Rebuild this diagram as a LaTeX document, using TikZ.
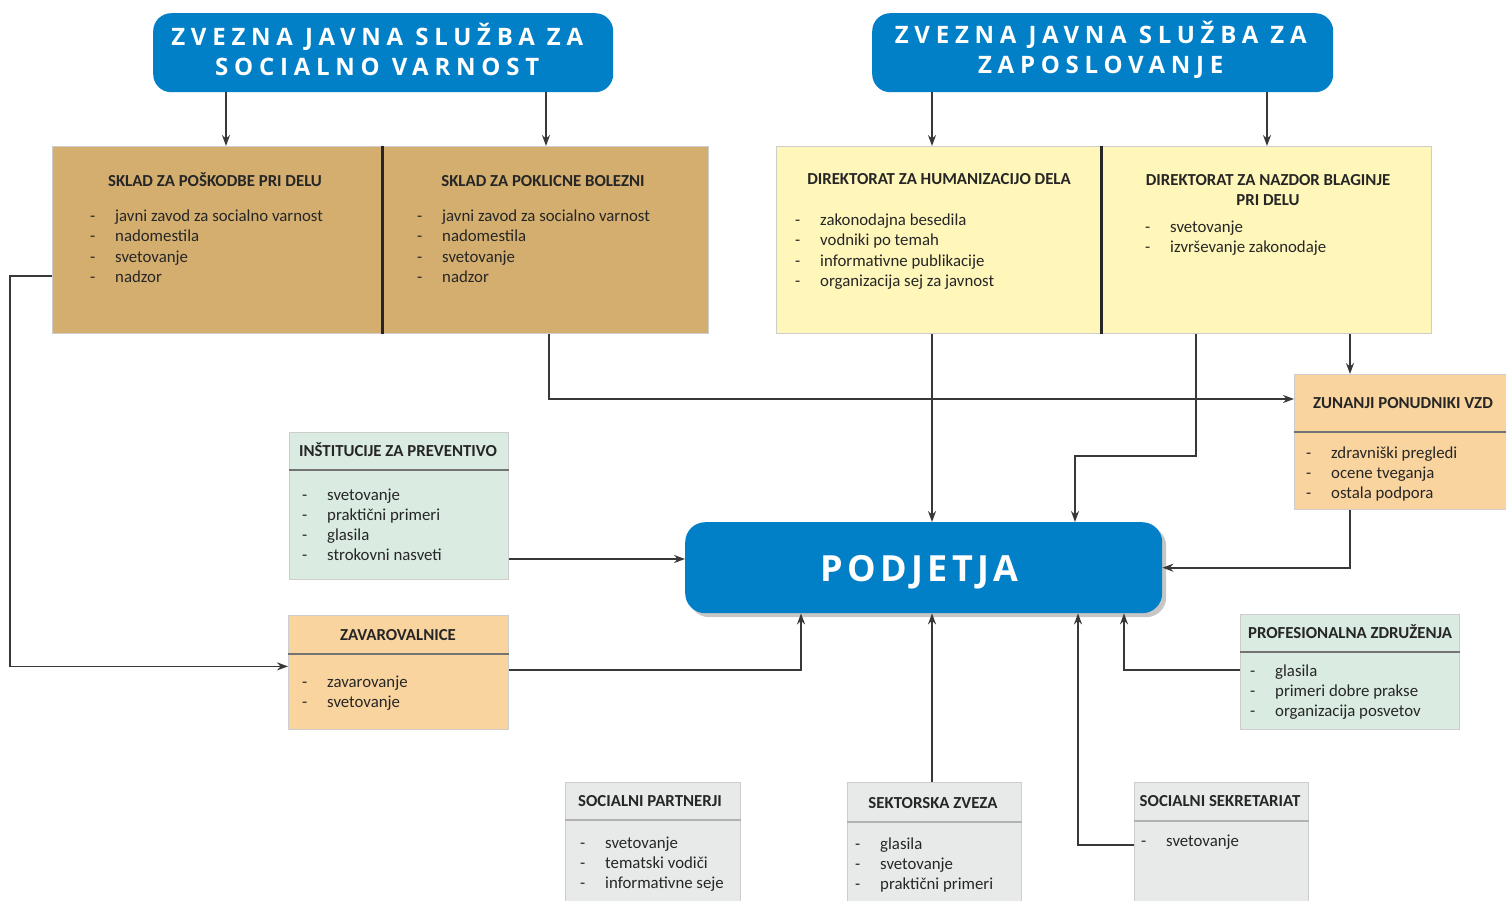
\documentclass[tikz,border=0pt]{standalone}
\usepackage{fontspec}
\setmainfont{Carlito}
\newfontfamily\headfont[LetterSpace=24]{Open Sans}
\newfontfamily\podfont[LetterSpace=12]{Open Sans}
\usetikzlibrary{arrows.meta, shadows}

\definecolor{zjsblue}{RGB}{2,128,199}
\definecolor{skladbrown}{RGB}{212,174,110}
\definecolor{diryellow}{RGB}{255,246,186}
\definecolor{peach}{RGB}{250,212,158}
\definecolor{mint}{RGB}{218,235,225}
\definecolor{lightgrey}{RGB}{232,234,234}
\definecolor{edgegrey}{RGB}{205,205,205}

\tikzset{
  box/.style={draw=edgegrey, line width=0.8pt, anchor=north west, inner sep=0pt},
  bluebox/.style={fill=zjsblue, rounded corners=18pt, anchor=north west, inner sep=0pt},
  headtext/.style={inner sep=0pt, text=white, align=center,
    font=\headfont\bfseries\fontsize{24}{30}\selectfont},
  boxtitle/.style={anchor=base, inner sep=0pt, text=black!85,
    font=\fontsize{16.8}{20}\selectfont\bfseries},
  listitem/.style={anchor=base west, inner sep=0pt, text=black!85,
    font=\fontsize{16.8}{20}\selectfont},
  hline/.style={draw=black!55, line width=1.5pt},
  sep/.style={draw=black!85, line width=3pt},
  arr/.style={draw=black!78, line width=1.6pt, -{Stealth[length=11pt, width=8pt]}}
}

% list of items: name prefix, x of dash, baseline of first line, items
\newcommand{\dashlist}[4]{%
  \foreach \txt [count=\k] in {#4}
    \node[listitem] (#1-\k) at (#2, #3+20*\k-20) {\makebox[25pt][l]{-}\txt};
}

\begin{document}
\begin{tikzpicture}[x=1pt, y=-1pt]
\useasboundingbox (0,0) rectangle (1506,901);

% federal services
\node[bluebox, minimum width=460pt, minimum height=79pt] (topA) at (153,13) {};
\node[headtext] (topA-t) at ([xshift=-6pt, yshift=3pt]topA.center)
  {ZVEZNA JAVNA SLUŽBA ZA\\SOCIALNO VARNOST};
\node[bluebox, minimum width=461pt, minimum height=79pt] (topB) at (872,13) {};
\node[headtext] (topB-t) at ([xshift=-2pt, yshift=3pt]topB.center)
  {ZVEZNA JAVNA SLUŽBA ZA\\ZAPOSLOVANJE};

% funds
\node[box, fill=skladbrown, minimum width=330pt, minimum height=187pt] (skladA) at (52,146) {};
\node[box, fill=skladbrown, minimum width=326pt, minimum height=187pt] (skladB) at (382,146) {};
\draw[sep] (skladA.north east) -- (skladA.south east);
\node[boxtitle] (skladA-t) at (215,187) {SKLAD ZA POŠKODBE PRI DELU};
\dashlist{skladA}{90}{222}{javni zavod za socialno varnost, nadomestila, svetovanje, nadzor}
\node[boxtitle] (skladB-t) at (543,187) {SKLAD ZA POKLICNE BOLEZNI};
\dashlist{skladB}{417}{222}{javni zavod za socialno varnost, nadomestila, svetovanje, nadzor}

% directorates
\node[box, fill=diryellow, minimum width=325pt, minimum height=187pt] (yelA) at (776,146) {};
\node[box, fill=diryellow, minimum width=330pt, minimum height=187pt] (yelB) at (1101,146) {};
\draw[sep] (yelA.north east) -- (yelA.south east);
\node[boxtitle] (yelA-t) at (939,185) {DIREKTORAT ZA HUMANIZACIJO DELA};
\dashlist{yelA}{795}{226}{zakonodajna besedila, vodniki po temah, informativne publikacije, organizacija sej za javnost}
\node[boxtitle, anchor=center, align=center] (yelB-t) at (1268,190) {DIREKTORAT ZA NAZDOR BLAGINJE\\PRI DELU};
\dashlist{yelB}{1145}{233}{svetovanje, izvrševanje zakonodaje}

% side boxes
\node[box, fill=peach, minimum width=212pt, minimum height=135pt] (zun) at (1294,374) {};
\draw[hline] ([yshift=-58pt]zun.north west) -- ([yshift=-58pt]zun.north east);
\node[boxtitle] (zun-t) at (1403,408) {ZUNANJI PONUDNIKI VZD};
\dashlist{zun}{1306}{458}{zdravniški pregledi, ocene tveganja, ostala podpora}

\node[box, fill=mint, minimum width=219pt, minimum height=147pt] (inst) at (289,432) {};
\draw[hline] ([yshift=-38pt]inst.north west) -- ([yshift=-38pt]inst.north east);
\node[boxtitle] (inst-t) at (398,456) {INŠTITUCIJE ZA PREVENTIVO};
\dashlist{inst}{302}{500}{svetovanje, praktični primeri, glasila, strokovni nasveti}

\node[box, fill=peach, minimum width=220pt, minimum height=114pt] (zav) at (288,615) {};
\draw[hline] ([yshift=-39pt]zav.north west) -- ([yshift=-39pt]zav.north east);
\node[boxtitle] (zav-t) at (398,640) {ZAVAROVALNICE};
\dashlist{zav}{302}{687}{zavarovanje, svetovanje}

\node[box, fill=mint, minimum width=219pt, minimum height=115pt] (prof) at (1240,614) {};
\draw[hline] ([yshift=-38pt]prof.north west) -- ([yshift=-38pt]prof.north east);
\node[boxtitle] (prof-t) at (1350,638) {PROFESIONALNA ZDRUŽENJA};
\dashlist{prof}{1250}{676}{glasila, primeri dobre prakse, organizacija posvetov}

% bottom boxes
\node[box, fill=lightgrey, minimum width=175pt, minimum height=125pt] (socp) at (565,782) {};
\draw[hline, draw=black!30] ([yshift=-38pt]socp.north west) -- ([yshift=-38pt]socp.north east);
\node[boxtitle] (socp-t) at (650,806) {SOCIALNI PARTNERJI};
\dashlist{socp}{580}{848}{svetovanje, tematski vodiči, informativne seje}

\node[box, fill=lightgrey, minimum width=174pt, minimum height=125pt] (sekt) at (847,782) {};
\draw[hline, draw=black!30] ([yshift=-40pt]sekt.north west) -- ([yshift=-40pt]sekt.north east);
\node[boxtitle] (sekt-t) at (933,808) {SEKTORSKA ZVEZA};
\dashlist{sekt}{855}{849}{glasila, svetovanje, praktični primeri}

\node[box, fill=lightgrey, minimum width=174pt, minimum height=125pt] (sekr) at (1134,782) {};
\draw[hline, draw=black!30] ([yshift=-39pt]sekr.north west) -- ([yshift=-39pt]sekr.north east);
\node[boxtitle] (sekr-t) at (1220,806) {SOCIALNI SEKRETARIAT};
\dashlist{sekr}{1141}{846}{svetovanje}

% companies
\node[bluebox, rounded corners=20pt, minimum width=477pt, minimum height=91pt,
  drop shadow={shadow xshift=4pt, shadow yshift=-4pt, opacity=0.45}] (pod) at (685,522) {};
\node[inner sep=0pt, text=white, font=\podfont\bfseries\fontsize{36}{40}\selectfont]
  (pod-t) at ([xshift=-4pt, yshift=-5pt]pod.center) {PODJETJA};

% connector columns and rows
\coordinate (colA) at (226,0);
\coordinate (colB) at (546,0);
\coordinate (colC) at (932,0);
\coordinate (colD) at (1267,0);
\coordinate (colE) at (549,0);
\coordinate (colF) at (1196,0);
\coordinate (colG) at (1075,0);
\coordinate (colH) at (801,0);
\coordinate (colI) at (1124,0);
\coordinate (colJ) at (1078,0);
\coordinate (colZ) at (1350,0);
\coordinate (rowB) at (0,399);
\coordinate (rowC) at (0,456);
\coordinate (rowD) at (0,559);
\coordinate (rowE) at (0,670);
\coordinate (rowG) at (0,845);

\draw[arr] (topA.south -| colA) -- (skladA.north -| colA);
\draw[arr] (topA.south -| colB) -- (skladB.north -| colB);
\draw[arr] (topB.south -| colC) -- (yelA.north -| colC);
\draw[arr] (topB.south -| colD) -- (yelB.north -| colD);
\draw[arr] (skladA.west |- skladA-4) -- ++(-42,0) |- ([yshift=6pt]zav.west);
\draw[arr] (skladB.south -| colE) |- (zun.west |- rowB);
\draw[arr] (yelB.south -| colZ) -- (zun.north -| colZ);
\draw[arr] (yelA.south -| colC) -- (pod.north -| colC);
\draw[arr] (yelB.south -| colF) |- (rowC -| colG) -- (pod.north -| colG);
\draw[arr] (inst.east |- rowD) -- (pod.west |- rowD);
\draw[arr] (zav.east |- rowE) -| (pod.south -| colH);
\draw[arr] (zun.south -| colZ) |- (pod.east);
\draw[arr] (prof.west |- rowE) -| (pod.south -| colI);
\draw[arr] (sekt.north -| colC) -- (pod.south -| colC);
\draw[arr] (sekr.west |- rowG) -| (pod.south -| colJ);
\end{tikzpicture}
\end{document}
